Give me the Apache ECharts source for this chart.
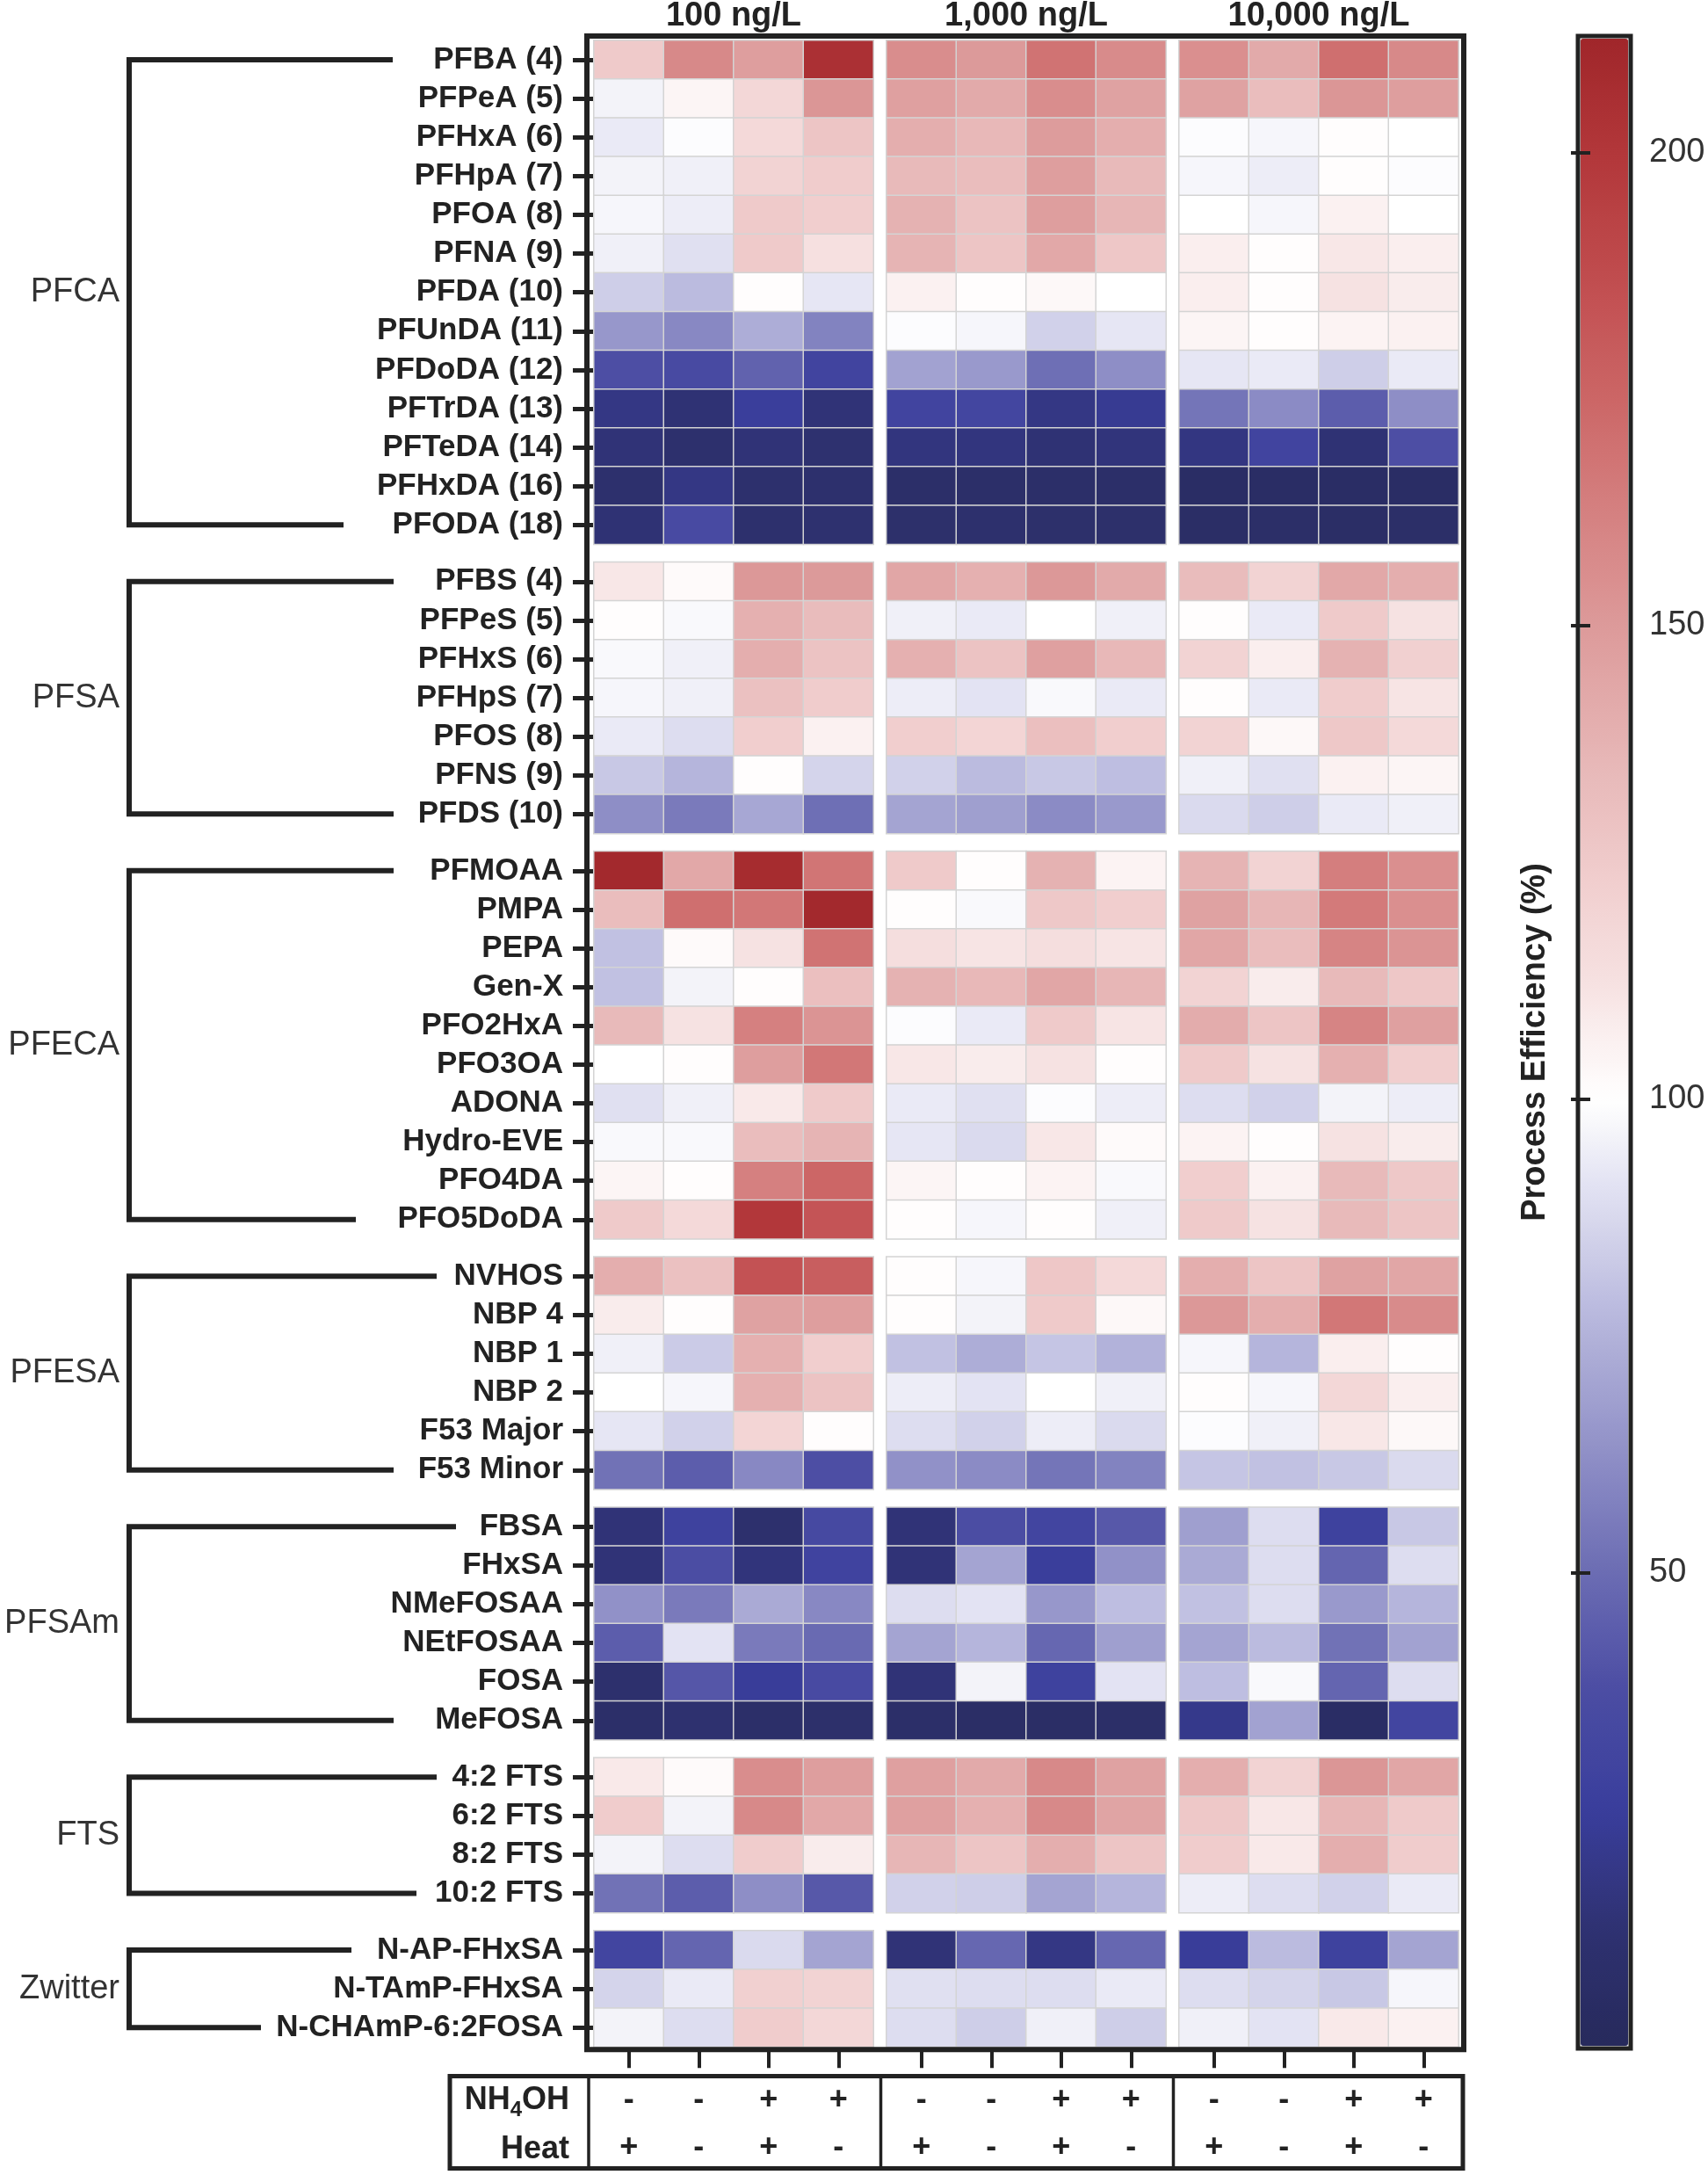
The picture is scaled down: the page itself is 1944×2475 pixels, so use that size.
<!DOCTYPE html>
<html><head><meta charset="utf-8">
<script src="https://cdn.jsdelivr.net/npm/echarts@6/dist/echarts.min.js"></script>
<style>html,body{margin:0;padding:0;background:#fff}#chart{width:1944px;height:2475px}</style>
</head><body><div id="chart"></div>
<script>
// ---------------- DATA ----------------
const concentrations = ['100 ng/L', '1,000 ng/L', '10,000 ng/L'];
const conditions = ['A', 'B', 'C', 'D'];
const nh4ohSigns = ['-', '-', '+', '+'];
const heatSigns = ['+', '-', '+', '-'];
const colorbarTicks = [50, 100, 150, 200];
const colorbarMin = 0;
const colorbarMax = 212;
const groupNames = ['PFCA', 'PFSA', 'PFECA', 'PFESA', 'PFSAm', 'FTS', 'Zwitter'];

const pfcaRows = ['PFBA (4)', 'PFPeA (5)', 'PFHxA (6)', 'PFHpA (7)', 'PFOA (8)', 'PFNA (9)', 'PFDA (10)', 'PFUnDA (11)', 'PFDoDA (12)', 'PFTrDA (13)', 'PFTeDA (14)', 'PFHxDA (16)', 'PFODA (18)'];
const pfcaValues = [
  [125,158,148,205, 156,150,168,157, 155,142,170,158],
  [96,104,118,152, 147,142,156,146, 146,132,152,148],
  [93,99,117,128, 140,135,149,140, 99,97,101,100],
  [96,95,120,124, 134,132,148,134, 97,94,101,99],
  [97,94,125,123, 138,129,148,136, 100,97,106,100],
  [95,90,125,113, 137,128,143,127, 107,101,110,107],
  [84,78,101,92, 106,101,103,100, 107,101,112,108],
  [65,60,73,58, 99,97,85,92, 104,101,105,106],
  [38,35,46,30, 69,66,51,62, 92,93,84,93],
  [18,13,25,14, 30,32,18,22, 53,61,44,62],
  [14,10,14,11, 16,16,13,15, 17,30,13,38],
  [10,18,10,10, 8,8,8,8, 5,5,5,5],
  [13,35,10,11, 9,10,9,9, 6,7,6,7]
];
const pfsaRows = ['PFBS (4)', 'PFPeS (5)', 'PFHxS (6)', 'PFHpS (7)', 'PFOS (8)', 'PFNS (9)', 'PFDS (10)'];
const pfsaValues = [
  [110,102,151,150, 144,139,151,142, 133,120,143,140],
  [101,98,139,133, 95,93,100,95, 101,93,125,112],
  [98,95,140,129, 139,129,147,135, 120,107,138,122],
  [97,95,130,124, 94,91,98,93, 101,93,124,111],
  [93,89,123,106, 123,119,131,123, 120,103,126,117],
  [82,76,101,86, 85,78,82,79, 95,90,106,104],
  [62,55,71,51, 70,68,61,66, 88,84,93,95]
];
const pfecaRows = ['PFMOAA', 'PMPA', 'PEPA', 'Gen-X', 'PFO2HxA', 'PFO3OA', 'ADONA', 'Hydro-EVE', 'PFO4DA', 'PFO5DoDA'];
const pfecaValues = [
  [210,143,208,167, 125,101,138,105, 137,120,163,155],
  [132,170,166,210, 101,98,126,123, 146,136,165,155],
  [80,102,112,168, 114,111,114,111, 144,132,160,153],
  [80,96,101,131, 138,135,144,136, 120,108,134,127],
  [134,112,162,153, 99,93,125,111, 141,128,160,147],
  [100,101,148,166, 110,108,112,101, 125,112,139,123],
  [90,95,109,125, 93,90,99,94, 89,85,96,94],
  [98,98,132,137, 92,88,110,102, 105,101,112,108],
  [104,101,162,174, 104,101,105,98, 123,106,134,126],
  [125,117,200,183, 101,97,101,95, 125,112,134,128]
];
const pfesaRows = ['NVHOS', 'NBP 4', 'NBP 1', 'NBP 2', 'F53 Major', 'F53 Minor'];
const pfesaValues = [
  [140,130,184,178, 101,97,127,117, 140,128,146,144],
  [108,101,146,148, 101,96,125,103, 151,140,166,157],
  [95,83,139,123, 80,73,81,75, 97,76,107,101],
  [100,97,139,129, 94,91,100,95, 101,97,118,107],
  [92,85,119,101, 89,85,94,88, 99,95,110,103],
  [52,44,60,38, 63,61,53,58, 81,80,82,88]
];
const pfsamRows = ['FBSA', 'FHxSA', 'NMeFOSAA', 'NEtFOSAA', 'FOSA', 'MeFOSA'];
const pfsamValues = [
  [14,28,10,34, 14,37,31,42, 68,89,28,82],
  [14,37,15,29, 14,70,25,63, 72,89,47,89],
  [63,55,72,60, 89,91,65,79, 80,89,66,76],
  [44,91,55,49, 70,76,48,68, 70,78,52,69],
  [10,41,24,35, 14,96,28,91, 79,98,47,89],
  [8,11,8,9, 8,6,6,7, 20,69,5,31]
];
const ftsRows = ['4:2 FTS', '6:2 FTS', '8:2 FTS', '10:2 FTS'];
const ftsValues = [
  [109,102,156,148, 147,142,158,146, 140,120,152,144],
  [124,96,158,143, 147,139,158,145, 126,110,136,125],
  [96,89,124,108, 136,128,140,128, 124,109,140,124],
  [52,44,62,42, 85,84,70,76, 94,89,85,93]
];
const zwitterRows = ['N-AP-FHxSA', 'N-TAmP-FHxSA', 'N-CHAmP-6:2FOSA'];
const zwitterValues = [
  [31,47,88,70, 14,48,18,48, 24,78,28,70],
  [86,93,122,120, 90,89,89,93, 89,86,82,97],
  [96,89,124,118, 89,84,95,84, 95,91,109,106]
];

// ---------------- STYLE / LAYOUT ----------------
const FONT = "'Liberation Sans', Arial, Helvetica, sans-serif";
const INK = '#222222';
const cellLeft = 676, cellW = 79.5, colGap = 15, top0 = 46, rowH = 44.1, rowGap = 20.4;
const blockW = cellW * 4, blockStep = blockW + colGap;
const bracketX = 147;
const bracketEnds = [[447, 391], [448, 448], [448, 405], [497, 448], [519, 448], [497, 474], [400, 297]];
const colorStops = [
  [0, '#272a5c'], [12, '#2e3170'], [25, '#3a3e9c'], [37, '#4a4ca3'], [50, '#6b6cb3'],
  [62, '#8e8ec6'], [75, '#b2b2da'], [88, '#dadaee'], [100, '#ffffff'], [112, '#f6e2e2'],
  [125, '#efcaca'], [137, '#e6b4b4'], [150, '#dc9a9a'], [162, '#d58080'], [175, '#cb6464'],
  [187, '#c04c4e'], [200, '#b2373a'], [212, '#a0262a']
];

function hexToRgb(h) { return [1,3,5].map(i => parseInt(h.slice(i, i + 2), 16)); }
function colorAt(v) {
  for (let i = 0; i < colorStops.length - 1; i++) {
    const [v0, c0] = colorStops[i], [v1, c1] = colorStops[i + 1];
    if (v >= v0 && v <= v1) {
      const t = (v - v0) / (v1 - v0), a = hexToRgb(c0), b = hexToRgb(c1);
      return 'rgb(' + a.map((x, k) => Math.round(x + (b[k] - x) * t)).join(',') + ')';
    }
  }
  return colorStops[colorStops.length - 1][1];
}
const rampColors = [];
for (let v = colorbarMin; v <= colorbarMax; v += 2) rampColors.push(colorAt(v));

const rowGroups = [
  { name: groupNames[0], rows: pfcaRows, values: pfcaValues },
  { name: groupNames[1], rows: pfsaRows, values: pfsaValues },
  { name: groupNames[2], rows: pfecaRows, values: pfecaValues },
  { name: groupNames[3], rows: pfesaRows, values: pfesaValues },
  { name: groupNames[4], rows: pfsamRows, values: pfsamValues },
  { name: groupNames[5], rows: ftsRows, values: ftsValues },
  { name: groupNames[6], rows: zwitterRows, values: zwitterValues }
];

const grid = [], xAxis = [], yAxis = [], series = [], graphic = [];
let rowsBefore = 0;
rowGroups.forEach((g, gi) => {
  const gTop = top0 + rowsBefore * rowH + gi * rowGap;
  const gH = g.rows.length * rowH;
  const isLast = gi === rowGroups.length - 1;
  for (let c = 0; c < 3; c++) {
    const idx = grid.length;
    grid.push({ left: cellLeft + c * blockStep, top: gTop, width: blockW, height: gH, outerBoundsMode: 'none', containLabel: false });
    xAxis.push({
      gridIndex: idx, type: 'category', data: conditions, show: isLast,
      axisLine: { show: false },
      axisTick: { show: true, alignWithLabel: true, interval: 0, length: 24, lineStyle: { color: INK, width: 4 } },
      axisLabel: {
        interval: 0, margin: 34, fontFamily: FONT, fontSize: 36, fontWeight: 'bold', color: INK, lineHeight: 54,
        formatter: (v, i) => nh4ohSigns[i] + '\n' + heatSigns[i]
      },
      splitLine: { show: false }
    });
    yAxis.push({
      gridIndex: idx, type: 'category', data: g.rows, inverse: true, show: c === 0,
      axisLine: { show: false },
      axisTick: { show: true, alignWithLabel: true, interval: 0, length: 24, lineStyle: { color: INK, width: 5 } },
      axisLabel: { interval: 0, margin: 35, fontFamily: FONT, fontSize: 35, fontWeight: 'bold', color: INK },
      splitLine: { show: false }
    });
    const data = [];
    g.values.forEach((row, r) => {
      for (let k = 0; k < 4; k++) data.push([k, r, row[c * 4 + k]]);
    });
    series.push({
      type: 'heatmap', xAxisIndex: idx, yAxisIndex: idx, data,
      itemStyle: { borderColor: '#d4d4d4', borderWidth: 1.5 },
      emphasis: { disabled: true }, silent: true, progressive: 0
    });
  }
  // bracket + group label
  const yTop = gTop + rowH / 2, yBot = gTop + gH - rowH / 2;
  graphic.push({
    type: 'polyline', z: 100,
    shape: { points: [[bracketEnds[gi][0], yTop], [bracketX, yTop], [bracketX, yBot], [bracketEnds[gi][1], yBot]] },
    style: { stroke: INK, lineWidth: 6, fill: null, lineJoin: 'miter' }
  });
  graphic.push({
    type: 'text', z: 100, x: 136, y: (yTop + yBot) / 2,
    style: { text: g.name, font: '38px ' + FONT, fill: '#333', align: 'right', verticalAlign: 'middle' }
  });
  rowsBefore += g.rows.length;
});

const heatBottom = top0 + rowsBefore * rowH + (rowGroups.length - 1) * rowGap;

// colorbar axis grid
const cbTop = 44, cbH = 2284, cbLeft = 1799, cbW = 54;
const cbIdx = grid.length;
grid.push({ left: cbLeft, top: cbTop, width: cbW, height: cbH, outerBoundsMode: 'none', containLabel: false });
xAxis.push({ gridIndex: cbIdx, type: 'value', show: false, min: 0, max: 1 });
['right', 'left'].forEach(pos => {
  yAxis.push({
    gridIndex: cbIdx, type: 'value', position: pos, min: colorbarMin, max: colorbarMax, interval: 50, zlevel: 1, z: 50,
    axisLine: { show: false }, splitLine: { show: false },
    axisTick: { show: true, inside: true, length: 11, customValues: colorbarTicks, lineStyle: { color: INK, width: 4 } },
    axisLabel: { show: pos === 'right', margin: 24, customValues: colorbarTicks, fontFamily: FONT, fontSize: 38, color: '#333' }
  });
});

// frames, titles, table
graphic.push({ type: 'rect', z: 100, shape: { x: 668, y: 41, width: 998, height: heatBottom - 41 + 3 }, style: { fill: null, stroke: INK, lineWidth: 6 } });
concentrations.forEach((t, c) => {
  graphic.push({ type: 'text', z: 100, x: cellLeft + c * blockStep + blockW / 2, y: 19,
    style: { text: t, font: 'bold 38px ' + FONT, fill: INK, align: 'center', verticalAlign: 'middle' } });
});
graphic.push({ type: 'rect', z: 100, shape: { x: cbLeft - 3, y: cbTop - 3, width: cbW + 6, height: cbH + 6 }, style: { fill: null, stroke: INK, lineWidth: 5 } });
graphic.push({ type: 'text', z: 100, x: 1748, y: 1186, rotation: Math.PI / 2,
  style: { text: 'Process Efficiency (%)', font: 'bold 38px ' + FONT, fill: INK, align: 'center', verticalAlign: 'middle' } });

const tTop = 2362.5, tH = 105;
graphic.push({ type: 'rect', z: 100, shape: { x: 512, y: tTop, width: 1153, height: tH }, style: { fill: null, stroke: INK, lineWidth: 5 } });
[670, cellLeft + blockW + colGap / 2 + 1, cellLeft + blockStep + blockW + colGap / 2 + 1].forEach(x => {
  graphic.push({ type: 'line', z: 100, shape: { x1: x, y1: tTop, x2: x, y2: tTop + tH }, style: { stroke: INK, lineWidth: 3.5 } });
});
graphic.push({ type: 'text', z: 100, x: 648, y: 2390,
  style: { text: '{a|NH}{b|4}{a|OH}', align: 'right', verticalAlign: 'middle', fill: INK,
    rich: { a: { fontFamily: FONT, fontSize: 36, fontWeight: 'bold', fill: INK },
            b: { fontFamily: FONT, fontSize: 24, fontWeight: 'bold', fill: INK, padding: [22, 0, 0, 0] } } } });
graphic.push({ type: 'text', z: 100, x: 648, y: 2446,
  style: { text: 'Heat', font: 'bold 36px ' + FONT, fill: INK, align: 'right', verticalAlign: 'middle' } });

const option = {
  backgroundColor: '#ffffff',
  animation: false,
  grid, xAxis, yAxis, series, graphic,
  visualMap: {
    type: 'continuous', min: colorbarMin, max: colorbarMax, calculable: false, hoverLink: false,
    seriesIndex: series.map((s, i) => i),
    inRange: { color: rampColors },
    left: cbLeft, top: cbTop, itemWidth: cbW, itemHeight: cbH, padding: 0, text: null,
    orient: 'vertical', align: 'left', z: 4
  }
};
const chart = echarts.init(document.getElementById('chart'), null, { renderer: 'canvas' });
chart.setOption(option);
</script></body></html>
